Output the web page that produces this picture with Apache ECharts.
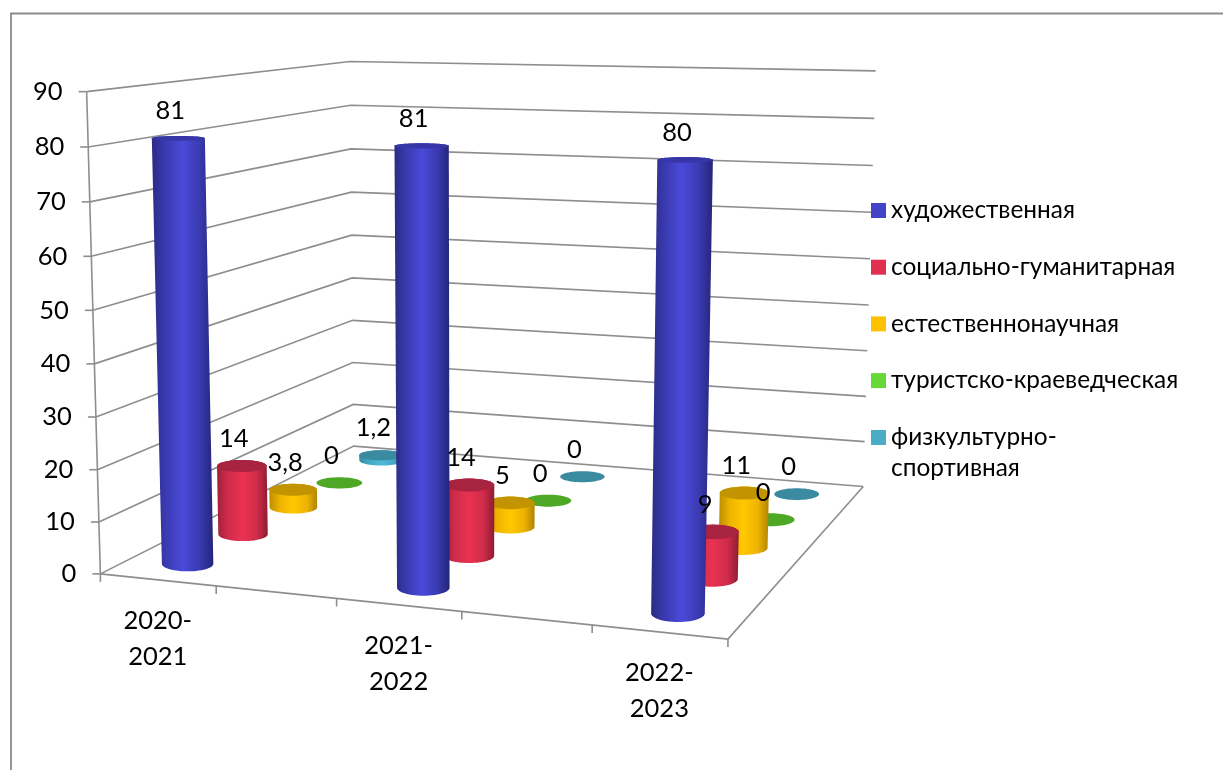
<!DOCTYPE html>
<html><head><meta charset="utf-8">
<style>html,body{margin:0;padding:0;background:#fff}#c{width:1223px;height:770px}</style>
<script src="https://cdn.jsdelivr.net/npm/echarts@6/dist/echarts.min.js"></script>
</head><body><div id="c"></div>
<script>
const categories = ['2020-2021', '', '2021-2022', '', '2022-2023'];
const yTicks = [0, 10, 20, 30, 40, 50, 60, 70, 80, 90];
const seriesNames = ['художественная', 'социально-гуманитарная', 'естественнонаучная', 'туристско-краеведческая', 'физкультурно-спортивная'];
const art = [81, null, 81, null, 80];
const social = [14, null, 14, null, 9];
const natural = [3.8, null, 5, null, 11];
const tourism = [0, null, 0, null, 0];
const sport = [1.2, null, 0, null, 0];
const allValues = [art, social, natural, tourism, sport];

const legendColors = ['#4343c8', '#e0304f', '#ffc000', '#66d838', '#4bacc6'];
const shades = [
  {edgeL:'#2b2b85', mid1:'#3a3ab0', center:'#4a4adb', edgeR:'#25257a', top:'#3636a6'},
  {edgeL:'#a0203a', mid1:'#d02c4b', center:'#ea3252', edgeR:'#8f1c33', top:'#a8233f'},
  {edgeL:'#bb8c00', mid1:'#eeb400', center:'#ffc800', edgeR:'#b08400', top:'#c29400'},
  {edgeL:'#3f8a1e', mid1:'#4ea826', center:'#58b82c', edgeR:'#3f8a1e', top:'#4ea826'},
  {edgeL:'#378ba3', mid1:'#45a8c4', center:'#4fbcda', edgeR:'#378ba3', top:'#3a8aa0'}
];

/* camera calibration of the perspective box: [u, depth, value, px, py] */
const calib = [
 [0,0,0,101,574],[0,0,10,99,521.7],[0,0,20,97.5,469],[0,0,30,96,417],[0,0,40,94,363],[0,0,50,92.5,310.7],[0,0,60,91,256.7],[0,0,70,90,202],[0,0,80,88,147],[0,0,90,86.5,92],
 [0,1,0,354,446],[0,1,10,353,405],[0,1,20,353,362.7],[0,1,30,352,320.7],[0,1,40,352,277.7],[0,1,50,351.5,235],[0,1,60,351,192],[0,1,70,351,148.7],[0,1,80,351,105.7],[0,1,90,351,61],
 [1,1,0,863,487],[1,1,10,865,441],[1,1,20,866,397],[1,1,30,867,350],[1,1,40,868.7,305],[1,1,50,870,258],[1,1,60,871,212],[1,1,70,873,166],[1,1,80,874.3,118.7],[1,1,90,875.7,71],
 [0.2,0,0,216,586],[0.4,0,0,337,598],[0.6,0,0,462,611.7],[0.8,0,0,592,626],[1,0,0,728,639],[1,0,0,728,639],[1,0,0,728,639]
];
function solve(A,b){const n=b.length;for(let i=0;i<n;i++){let p=i;for(let r=i+1;r<n;r++)if(Math.abs(A[r][i])>Math.abs(A[p][i]))p=r;
 [A[i],A[p]]=[A[p],A[i]];[b[i],b[p]]=[b[p],b[i]];
 for(let r=i+1;r<n;r++){const f=A[r][i]/A[i][i];for(let c=i;c<n;c++)A[r][c]-=f*A[i][c];b[r]-=f*b[i];}}
 const x=new Array(n);for(let i=n-1;i>=0;i--){let s=b[i];for(let c=i+1;c<n;c++)s-=A[i][c]*x[c];x[i]=s/A[i][i];}return x;}
function fitCamera(){const n=11,A=[],b=new Array(n).fill(0);for(let i=0;i<n;i++)A.push(new Array(n).fill(0));
 const add=(row,t)=>{for(let i=0;i<n;i++){b[i]+=row[i]*t;for(let j=0;j<n;j++)A[i][j]+=row[i]*row[j];}};
 calib.forEach(([u,d,v,x,y])=>{const w=v/90;
  add([u,d,w,1,0,0,0,0,-u*x,-d*x,-w*x],x);
  add([0,0,0,0,u,d,w,1,-u*y,-d*y,-w*y],y);});
 return solve(A,b);}
const P=fitCamera();
function project(u,d,v){const w=v/90,q=P[8]*u+P[9]*d+P[10]*w+1;
 return [(P[0]*u+P[1]*d+P[2]*w+P[3])/q,(P[4]*u+P[5]*d+P[6]*w+P[7])/q];}

/* hidden cartesian grid: its scales convert data to u / value, the camera does the rest */
const G={left:100,top:60,width:600,height:450};
const toBox=(pt)=>({u:(pt[0]-G.left)/G.width,v:(G.top+G.height-pt[1])/G.height*90});

const FONT='Lato, "Noto Sans", sans-serif';
const RX=0.0405, RY=0.048;
function hull(pts){const s=pts.slice().sort((a,b)=>a[0]-b[0]||a[1]-b[1]);
 const cr=(o,a,b)=>(a[0]-o[0])*(b[1]-o[1])-(a[1]-o[1])*(b[0]-o[0]);const lo=[],up=[];
 for(const p of s){while(lo.length>1&&cr(lo[lo.length-2],lo[lo.length-1],p)<=0)lo.pop();lo.push(p);}
 for(let i=s.length-1;i>=0;i--){const p=s[i];while(up.length>1&&cr(up[up.length-2],up[up.length-1],p)<=0)up.pop();up.push(p);}
 return lo.slice(0,-1).concat(up.slice(0,-1));}
/* level ellipse of the cylinder at a height, sized from the local scale of the camera */
function circle(u,d,v){const c=project(u,d,v),e=0.01;
 const rx=RX*(1+0.15*(0.9-u))*(project(u+e,d,v)[0]-project(u-e,d,v)[0])/(2*e);
 const ry=RY*Math.abs(project(u,d+e,v)[1]-project(u,d-e,v)[1])/(2*e);
 const o=[];for(let i=0;i<56;i++){const a=i/56*Math.PI*2;o.push([c[0]+rx*Math.cos(a),c[1]+ry*Math.sin(a)]);}return o;}
const rowDepth=(row)=>(row+0.5)/5;

function renderCylinder(row){return function(params,api){
 const b=toBox(api.coord([api.value(0),api.value(1)]));const d=rowDepth(row),sh=shades[row];const kids=[];
 if(b.v>0){const pts=hull(circle(b.u,d,0).concat(circle(b.u,d,b.v)));
  kids.push({type:'polygon',shape:{points:pts},style:{fill:new echarts.graphic.LinearGradient(0,0,1,0,[
   {offset:0,color:sh.edgeL},{offset:0.22,color:sh.mid1},{offset:0.5,color:sh.center},{offset:0.78,color:sh.mid1},{offset:1,color:sh.edgeR}])}});}
 kids.push({type:'polygon',shape:{points:circle(b.u,d,b.v)},style:{fill:sh.top}});
 return {type:'group',children:kids};};}

function renderWalls(params,api){const v=api.value(0);const kids=[];const line={stroke:'#8e8e8e',lineWidth:1.6,fill:null};
 const a=project(0,0,v),c=project(0,1,v),e=project(1,1,v);
 kids.push({type:'polyline',shape:{points:[a,c,e]},style:line});
 kids.push({type:'line',shape:{x1:a[0]-8,y1:a[1],x2:a[0],y2:a[1]},style:line});
 kids.push({type:'text',style:{text:String(v),x:a[0]-24,y:a[1],align:'right',verticalAlign:'middle',fill:'#000',font:'25.5px '+FONT}});
 if(v===90){const z=project(0,0,0);kids.push({type:'line',shape:{x1:a[0],y1:a[1],x2:z[0],y2:z[1]},style:line});}
 if(v===0){const fr=project(1,0,0);kids.push({type:'polyline',shape:{points:[a,fr,e]},style:line});}
 return {type:'group',children:kids};}

function renderCats(params,api){const i=api.value(0);const st=api.size([1,0])[0]/G.width;const b=toBox(api.coord([i,0]));const kids=[];
 const line={stroke:'#8e8e8e',lineWidth:1.6,fill:null};
 const tick=(u)=>{const p=project(u,0,0);kids.push({type:'line',shape:{x1:p[0],y1:p[1],x2:p[0],y2:p[1]+8},style:line});};
 tick(b.u-st/2);if(i===categories.length-1)tick(b.u+st/2);
 const name=categories[i];
 if(name){const p=project(b.u,0,0);kids.push({type:'text',style:{text:name.replace('-','-\n'),x:p[0],y:p[1]+59,align:'center',verticalAlign:'middle',lineHeight:36,fill:'#000',font:'25.5px '+FONT}});}
 return {type:'group',children:kids};}

function renderLabel(params,api){const row=api.value(2);const b=toBox(api.coord([api.value(0),api.value(1)]));const p=project(b.u,rowDepth(row),b.v);
 return {type:'text',style:{text:String(api.value(1)).replace('.',','),x:p[0]-8,y:p[1]-27,align:'center',verticalAlign:'middle',fill:'#000',font:'25.5px '+FONT}};}

const withIdx=(arr)=>arr.map((v,i)=>[i,v]).filter(r=>r[1]!==null);
const labelData=[];allValues.forEach((arr,row)=>withIdx(arr).forEach(r=>labelData.push([r[0],r[1],row])));

const legendBase={orient:'vertical',left:871,padding:0,itemWidth:15,itemHeight:15,icon:'rect',selectedMode:false};
const chart=echarts.init(document.getElementById('c'));
chart.setOption({
 animation:false,backgroundColor:'#fff',color:legendColors,
 grid:Object.assign({containLabel:false},G),
 xAxis:{type:'category',data:categories,show:false},
 yAxis:{type:'value',min:0,max:90,interval:10,show:false},
 legend:[
  Object.assign({},legendBase,{top:197,itemGap:29.7,textStyle:{fontFamily:FONT,fontSize:24.4,color:'#000',lineHeight:27},data:seriesNames.slice(0,4)}),
  Object.assign({},legendBase,{top:391,textStyle:{fontFamily:FONT,fontSize:24.4,color:'#000',lineHeight:31},
   formatter:(n)=>'\n'+n.replace('физкультурно-','физкультурно-\n'),data:seriesNames.slice(4)})
 ],
 graphic:[{type:'polyline',silent:true,z:-1,shape:{points:[[11,770],[11,13.5],[1223,13.5]]},style:{stroke:'#8c8c8c',lineWidth:1.8,fill:null}}],
 series:[
  {type:'custom',name:'стены',z:1,silent:true,renderItem:renderWalls,data:yTicks.map(v=>[v]),encode:{x:-1,y:-1}},
  {type:'custom',name:'подписи категорий',z:1,silent:true,renderItem:renderCats,data:categories.map((c,i)=>[i]),encode:{x:0}},
 ].concat(seriesNames.map((n,row)=>({type:'custom',name:n,z:10-row,silent:true,renderItem:renderCylinder(row),itemStyle:{color:legendColors[row]},data:withIdx(allValues[row]),encode:{x:0,y:1}})))
 .concat([{type:'custom',name:'значения',z:20,silent:true,renderItem:renderLabel,data:labelData,encode:{x:0,y:1}}])
});
</script></body></html>
